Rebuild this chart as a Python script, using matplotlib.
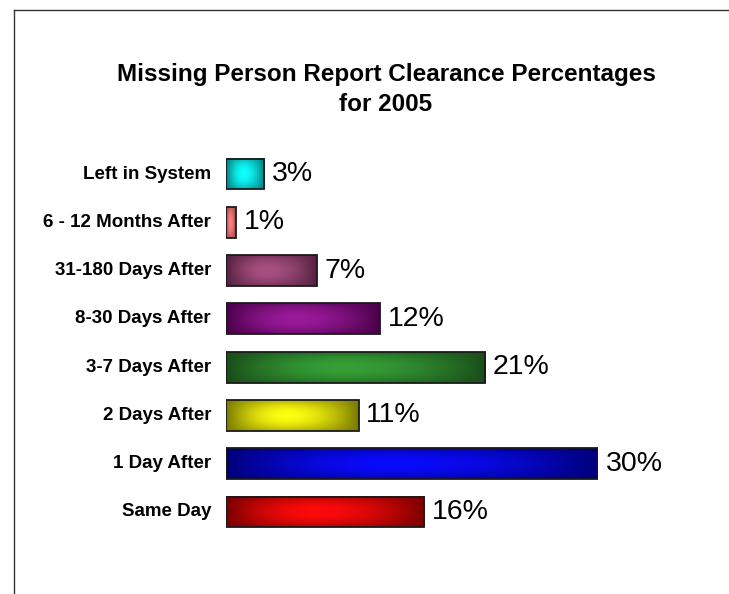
import matplotlib
matplotlib.use("Agg")
import matplotlib.pyplot as plt
import numpy as np
from matplotlib.patches import Rectangle
from matplotlib.lines import Line2D

# data, bottom to top
categories = ["Same Day", "1 Day After", "2 Days After", "3-7 Days After",
              "8-30 Days After", "31-180 Days After", "6 - 12 Months After",
              "Left in System"]
values = [16.0, 30.0, 10.7, 20.9, 12.4, 7.3, 0.8, 3.1]
labels = ["16%", "30%", "11%", "21%", "12%", "7%", "1%", "3%"]
# (bright centre colour, dark edge colour)
bar_colors = [
    ("#ff0a0a", "#7a0000"),
    ("#0a0aff", "#00007a"),
    ("#ffff10", "#7a7a00"),
    ("#35a035", "#1a4d1a"),
    ("#9a1a9a", "#4a004a"),
    ("#a85080", "#552040"),
    ("#ff8080", "#904040"),
    ("#10ffff", "#007a7a"),
]
title = "Missing Person Report Clearance Percentages\nfor 2005"

plt.rcParams['font.family'] = ['Liberation Sans', 'DejaVu Sans']

W, H = 729, 594
fig = plt.figure(figsize=(W / 100, H / 100), dpi=100)

# frame of the chart area (cut off at right and bottom)
fig.add_artist(Line2D([14 / W, 14 / W], [0, 1 - 10 / H], color="#333333", lw=1.0))
fig.add_artist(Line2D([14 / W, 1], [1 - 10 / H, 1 - 10 / H], color="#333333", lw=1.0))

x0, x30 = 226, 598
ytop, ybot = 174, 512
step = (ybot - ytop) / 7.0
ax = fig.add_axes([x0 / W, (H - ybot - step / 2) / H,
                   (x30 - x0) / W, (ybot - ytop + step) / H])
ax.set_xlim(0, 30)
ax.set_ylim(-0.5, 7.5)
ax.axis("off")

bar_h = 0.64


def gradient_img(c_hi, c_lo, nx=200, ny=40):
    hi = np.array(matplotlib.colors.to_rgb(c_hi))
    lo = np.array(matplotlib.colors.to_rgb(c_lo))
    xs = np.linspace(0, 1, nx)
    ys = np.linspace(-1, 1, ny)
    X, Y = np.meshgrid(xs, ys)
    dx = np.where(X < 0.45, (0.45 - X) / 0.45, (X - 0.45) / 0.55)
    f = (1 - dx ** 1.8) * (1 - 0.55 * Y ** 2)
    f = np.clip(f, 0, 1)
    return lo + (hi - lo) * f[..., None]


for i, (v, lab) in enumerate(zip(values, labels)):
    c_hi, c_lo = bar_colors[i]
    img = gradient_img(c_hi, c_lo)
    ax.imshow(img, extent=[0, v, i - bar_h / 2, i + bar_h / 2],
              aspect="auto", interpolation="bilinear", zorder=2)
    ax.add_patch(Rectangle((0, i - bar_h / 2), v, bar_h, fill=False,
                           edgecolor="#1a1a1a", lw=1.3, zorder=3))
    ax.text(v + 0.62, i, lab, ha="left", va="center", fontsize=20.5,
            color="black", clip_on=False)
    ax.text(-1.2, i, categories[i], ha="right", va="center", fontsize=13.5,
            fontweight="bold", clip_on=False)

ax.set_xlim(0, 30)
ax.set_ylim(-0.5, 7.5)

fig.text(386 / W, 1 - 89.5 / H, title, ha="center", va="center",
         fontsize=17.5, fontweight="bold", linespacing=1.38)

fig.savefig("out.png", dpi=100)
